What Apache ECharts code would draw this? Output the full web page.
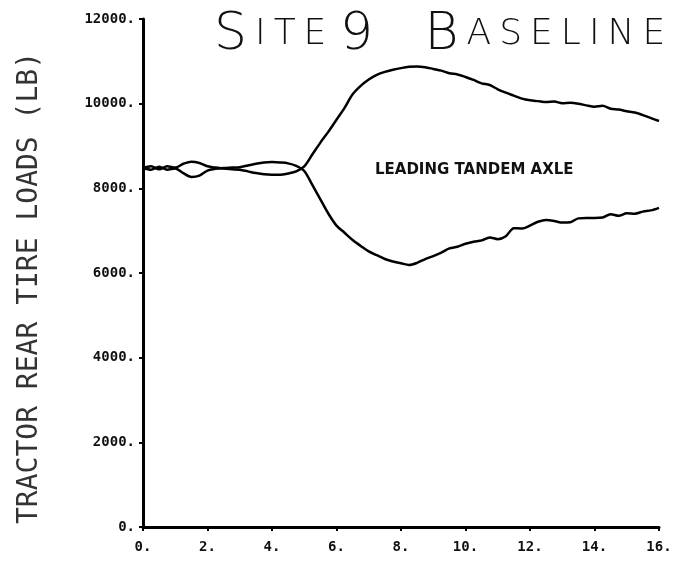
<!DOCTYPE html>
<html>
<head>
    <meta charset="utf-8">
    <title>Site 9 Baseline</title>
    <script src="https://cdn.jsdelivr.net/npm/echarts@6/dist/echarts.min.js"></script>
</head>
<body style="margin:0;background:#fff;">
    <div id="chart" style="width: 681px; height: 574px;"></div>

    <script type="text/javascript">
        // time axis (step 0.25)
        var times = [];
        for (var i = 0; i <= 64; i++) {
            times.push(i * 0.25);
        }

        // tire load that ends on top
        var upperLoad = [
            8480, 8520, 8450, 8520, 8490, 8580, 8630, 8600, 8520, 8490,
            8470, 8450, 8440, 8400, 8360, 8330, 8320, 8320, 8350, 8400,
            8520, 8800, 9080, 9340, 9620, 9900, 10220, 10420, 10570, 10680,
            10750, 10800, 10840, 10870, 10880, 10860, 10820, 10780, 10720, 10690,
            10630, 10560, 10480, 10440, 10340, 10260, 10190, 10120, 10080, 10060,
            10040, 10050, 10010, 10020, 10000, 9960, 9930, 9950, 9880, 9860,
            9820, 9790, 9730, 9660, 9590
        ];

        // tire load that ends at the bottom
        var lowerLoad = [
            8480, 8440, 8510, 8440, 8470, 8360, 8270, 8300, 8420, 8460,
            8480, 8490, 8500, 8540, 8580, 8610, 8620, 8610, 8590, 8530,
            8410, 8080, 7740, 7400, 7120, 6950, 6780, 6640, 6510, 6420,
            6330, 6270, 6230, 6190, 6240, 6330, 6400, 6480, 6580, 6620,
            6690, 6740, 6770, 6840, 6800, 6870, 7060, 7050, 7120, 7210,
            7250, 7230, 7190, 7200, 7290, 7300, 7300, 7310, 7390, 7350,
            7410, 7400, 7450, 7480, 7540
        ];

        function pairs(vals) {
            return times.map(function (t, i) { return [t, vals[i]]; });
        }

        var chart = echarts.init(document.getElementById('chart'));

        var labelFont = {
            color: '#111',
            fontFamily: 'DejaVu Sans Mono',
            fontWeight: 'bold',
            fontSize: 14
        };

        var tickStyle = { color: '#000', width: 2 };

        var option = {
            backgroundColor: '#fff',
            animation: false,
            title: [
                {
                    // hand lettered title, one token per letter so it can be spread out
                    text: '{big|S}{sm|I}{sm|T}{sm|E}{gap| }{big|9}{wide| }{big|B}{sm|A}{sm|S}{sm|E}{sm|L}{sm|I}{sm|N}{sm|E}',
                    left: 205,
                    top: 4,
                    textStyle: {
                        rich: {
                            big: { fontSize: 52, fontFamily: 'DejaVu Sans', fontWeight: 'lighter', color: '#111', padding: [0, 4, 0, 4] },
                            sm: { fontSize: 36, fontFamily: 'DejaVu Sans', fontWeight: 'lighter', color: '#111', padding: [0, 4, 0, 4] },
                            gap: { fontSize: 20 },
                            wide: { fontSize: 20, padding: [0, 38, 0, 0] }
                        }
                    }
                },
                {
                    text: 'LEADING TANDEM AXLE',
                    left: 370,
                    top: 158,
                    textStyle: {
                        fontSize: 15,
                        fontFamily: 'DejaVu Sans',
                        fontWeight: 'bold',
                        color: '#111'
                    }
                }
            ],
            graphic: [
                {
                    type: 'text',
                    left: 16,
                    top: 52,
                    style: {
                        text: 'TRACTOR REAR TIRE LOADS (LB)',
                        fontSize: 28,
                        fontFamily: 'DejaVu Sans Mono',
                        fill: '#333'
                    },
                    rotation: Math.PI / 2,
                    originX: 0,
                    originY: 0
                }
            ],
            grid: { left: 143, right: 22, top: 19, bottom: 47 },
            xAxis: {
                type: 'value',
                min: 0, max: 16, interval: 2,
                splitLine: { show: false },
                axisLine: { lineStyle: { color: '#000', width: 3 } },
                axisTick: { length: 4, lineStyle: tickStyle },
                axisLabel: Object.assign({ margin: 13, formatter: function (v) { return v + '.'; } }, labelFont)
            },
            yAxis: {
                type: 'value',
                min: 0, max: 12000, interval: 2000,
                splitLine: { show: false },
                axisLine: { show: true, lineStyle: { color: '#000', width: 3 } },
                axisTick: { show: true, length: 4, lineStyle: tickStyle },
                axisLabel: Object.assign({ margin: 8, formatter: function (v) { return v + '.'; } }, labelFont)
            },
            series: [
                {
                    name: 'upper',
                    type: 'line',
                    data: pairs(upperLoad),
                    showSymbol: false,
                    smooth: 0.3,
                    lineStyle: { color: '#000', width: 2.5 }
                },
                {
                    name: 'lower',
                    type: 'line',
                    data: pairs(lowerLoad),
                    showSymbol: false,
                    smooth: 0.3,
                    lineStyle: { color: '#000', width: 2.5 }
                }
            ]
        };

        chart.setOption(option);
    </script>
</body>
</html>
